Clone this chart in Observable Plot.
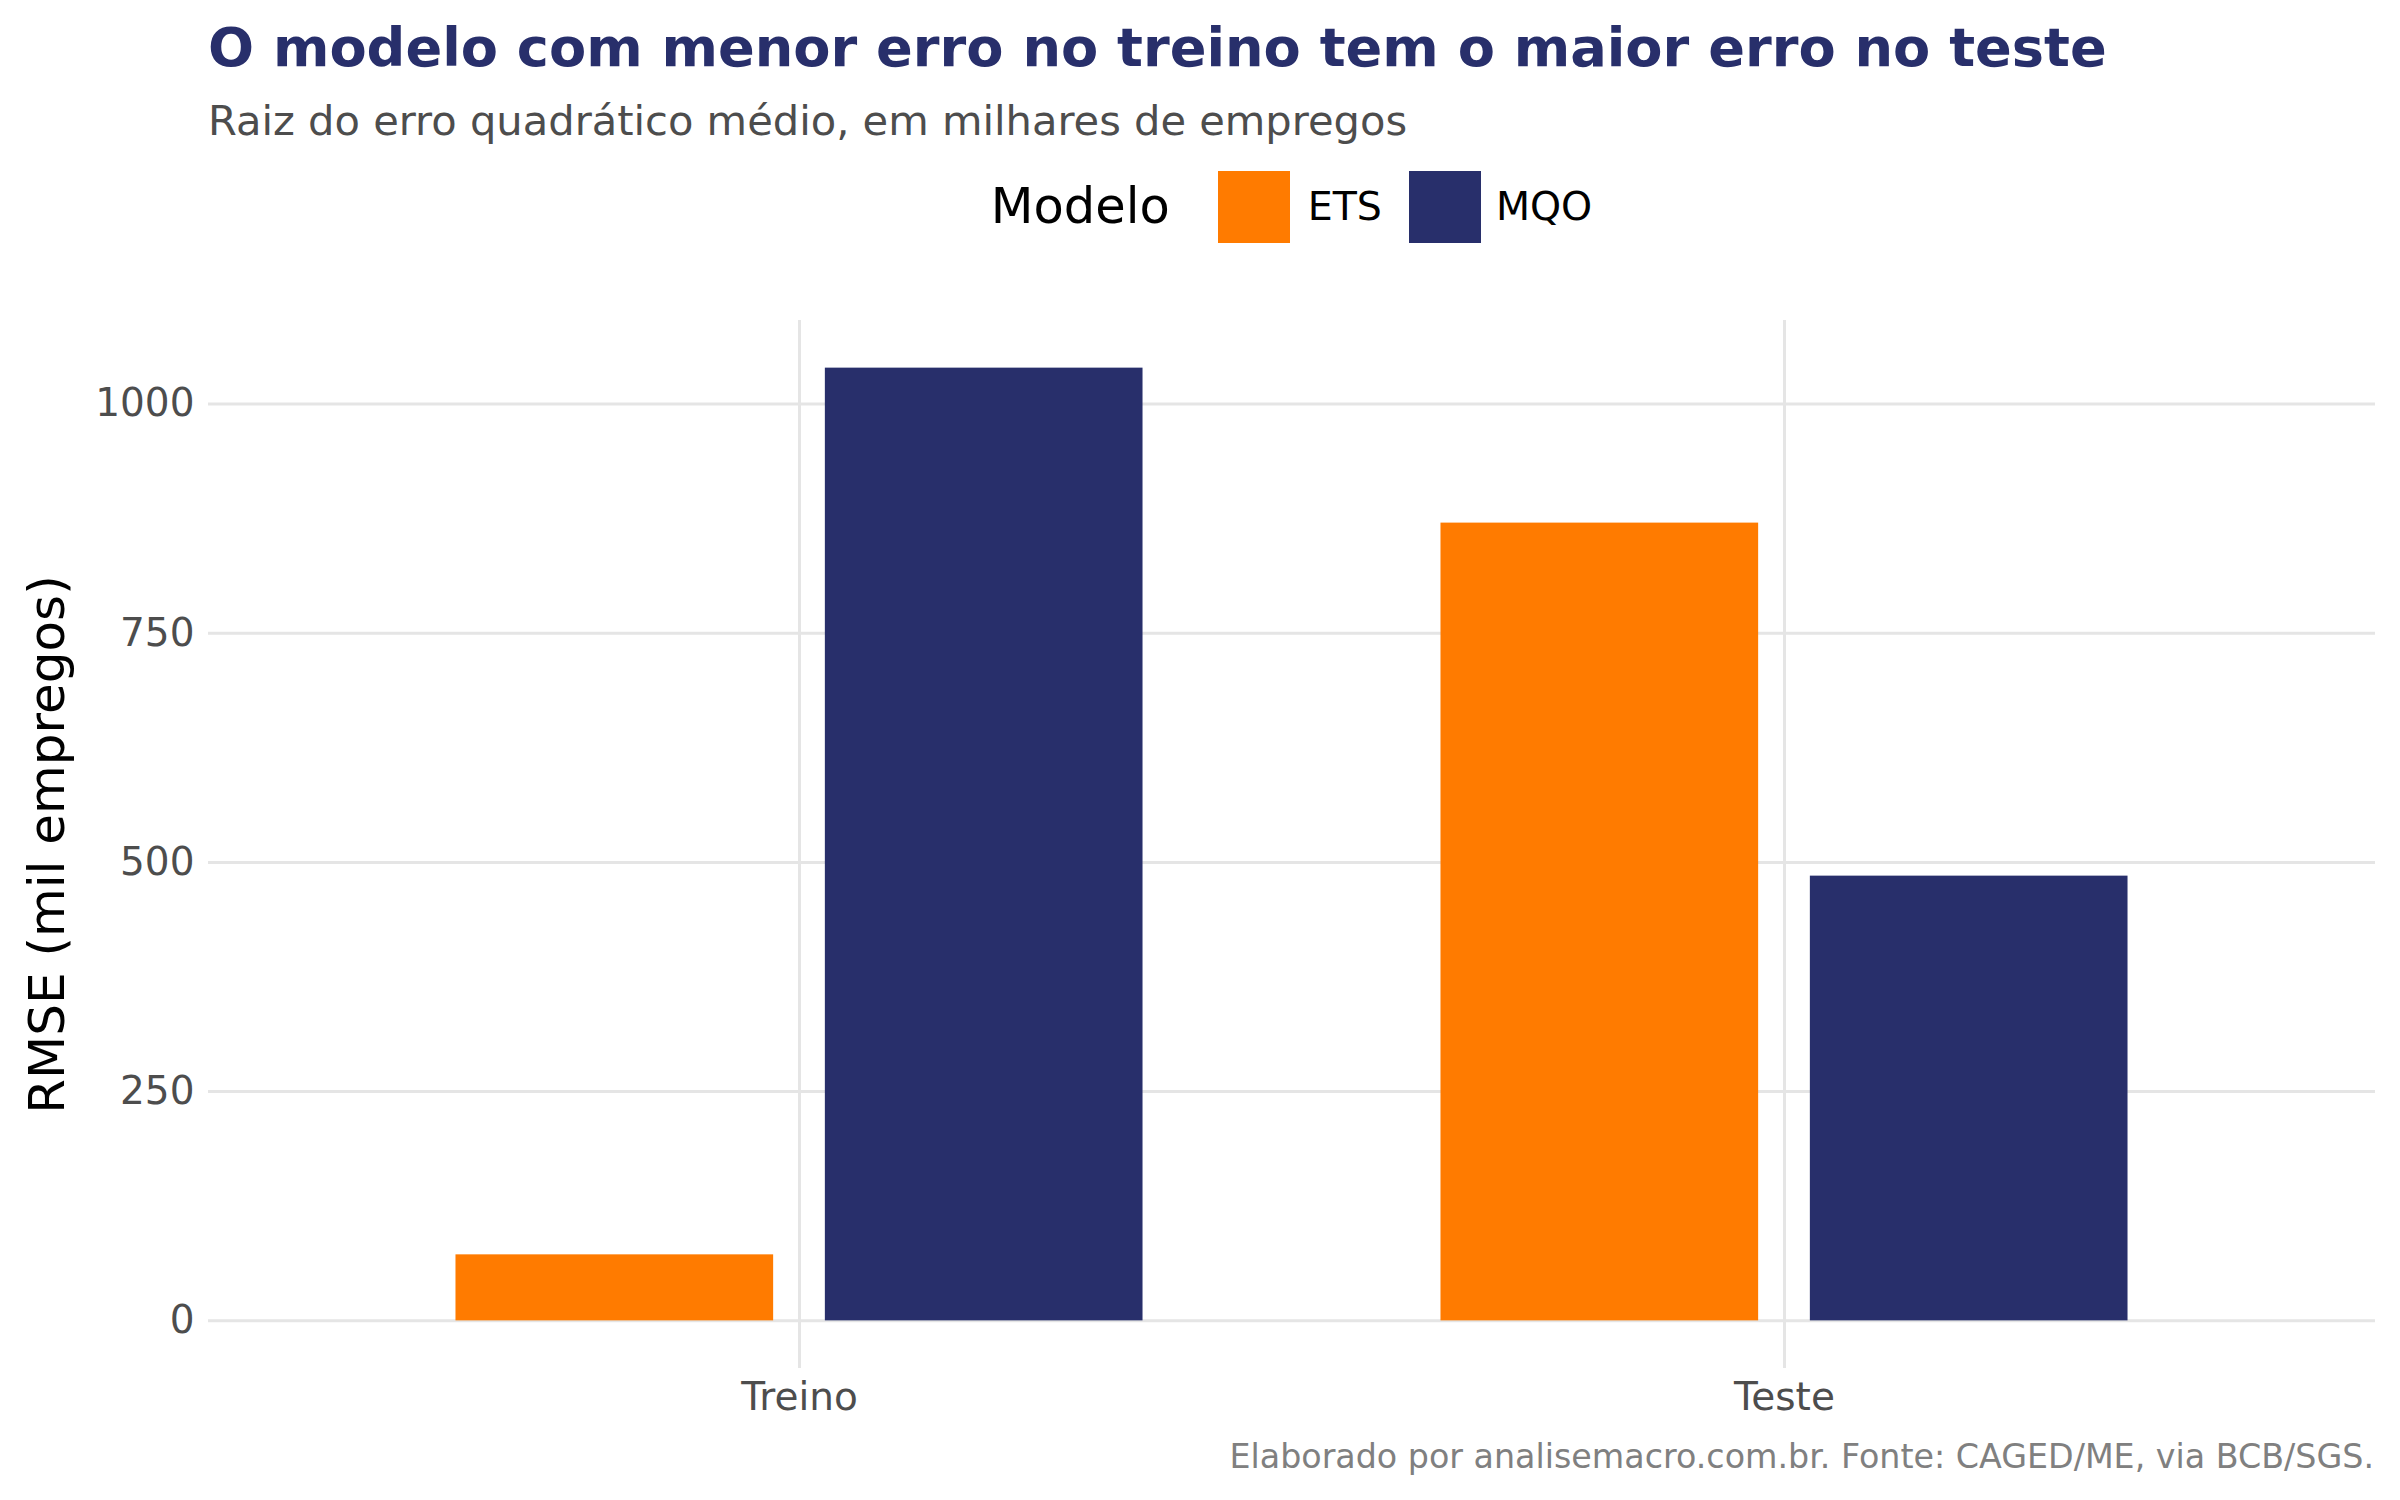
<!DOCTYPE html>
<html>
<head>
<meta charset="utf-8">
<script src="https://cdn.jsdelivr.net/npm/d3@7"></script>
<script src="https://cdn.jsdelivr.net/npm/@observablehq/plot@0.6"></script>
<style>
  html, body { margin: 0; padding: 0; background: #ffffff; }
  body { font-family: "DejaVu Sans", sans-serif; }
  #wrap { width: 2400px; height: 1500px; position: relative; overflow: hidden; background: #fff; }
  #header { position: relative; height: 300px; }
  .title { position: absolute; left: 208px; top: 21px; font-size: 54.2px; line-height: 54.2px; font-weight: bold; color: #282f6b; white-space: nowrap; }
  .subtitle { position: absolute; left: 208px; top: 100px; font-size: 41.6px; line-height: 41.6px; color: #4d4d4d; white-space: nowrap; }
  #legend { position: absolute; left: 208px; width: 2167px; top: 171px; height: 72px; display: flex; justify-content: center; align-items: center; }
  .lg-title { font-size: 49.5px; line-height: 49.5px; color: #000; margin-right: 48px; }
  .lg-key { width: 72px; height: 72px; }
  .lg-label { font-size: 39.5px; line-height: 39.5px; color: #000; }
  #chart svg { display: block; }
  .caption { height: 60px; padding-top: 0px; padding-right: 26px; text-align: right; font-size: 33.3px; line-height: 33.3px; color: #808080; white-space: nowrap; }
</style>
</head>
<body>
<div id="wrap">
  <div id="header">
    <div class="title">O modelo com menor erro no treino tem o maior erro no teste</div>
    <div class="subtitle">Raiz do erro quadrático médio, em milhares de empregos</div>
    <div id="legend"></div>
  </div>
  <div id="chart"></div>
  <div class="caption">Elaborado por analisemacro.com.br. Fonte: CAGED/ME, via BCB/SGS.</div>
</div>
<script>
// ---- data ----
const categorias = ["Treino", "Teste"];
const modelos = ["ETS", "MQO"];
const rmseETS = [72, 870];
const rmseMQO = [1039, 485];
const cores = ["#ff7b00", "#282f6b"];
const yTicks = [0, 250, 500, 750, 1000];
const legendTitle = "Modelo";
const yLabel = "RMSE (mil empregos)";

const series = [rmseETS, rmseMQO];
const data = categorias.flatMap((c, i) =>
  modelos.map((m, j) => ({categoria: c, modelo: m, rmse: series[j][i]}))
);

// ---- layout ----
const W = 2400, H = 1140;
const ml = 208, mr = 25, mt = 20, mb = 72;
const padOuter = 0.1;
const bw = (W - ml - mr) / (categorias.length + 2 * padOuter);
const dodgeWidth = 0.75, dodgePad = 0.14;
const slot = bw * dodgeWidth / modelos.length;
const barW = slot * (1 - dodgePad);

const yMax = d3.max(data, d => d.rmse);
const yExp = 0.05 * yMax;

const gridStyle = {stroke: "#e5e5e5", strokeOpacity: 1, strokeWidth: 3};

const barMarks = modelos.map((m, j) => {
  const center = bw / 2 + (j - (modelos.length - 1) / 2) * slot;
  const left = center - barW / 2;
  return Plot.barY(data.filter(d => d.modelo === m), {
    x: "categoria", y: "rmse", fill: "modelo",
    insetLeft: left, insetRight: bw - left - barW
  });
});

const chart = Plot.plot({
  width: W, height: H,
  marginLeft: ml, marginRight: mr, marginTop: mt, marginBottom: mb,
  style: {fontFamily: "DejaVu Sans", background: "white", overflow: "visible"},
  x: {domain: categorias, paddingInner: 0, paddingOuter: padOuter, round: false, axis: null},
  y: {domain: [-yExp, yMax + yExp], axis: null},
  color: {domain: modelos, range: cores},
  marks: [
    Plot.gridY(yTicks, gridStyle),
    Plot.gridX(categorias, gridStyle),
    ...barMarks,
    Plot.axisY({ticks: yTicks, tickFormat: d => String(d), tickSize: 0, tickPadding: 14, fontSize: 39, fill: "#4d4d4d", label: null}),
    Plot.axisY({ticks: [], tickSize: 0, label: yLabel, labelAnchor: "center", labelOffset: 180, labelArrow: "none", fontSize: 50, fill: "#000"}),
    Plot.axisX({tickSize: 0, tickPadding: 14, fontSize: 39, fill: "#4d4d4d", label: null})
  ]
});
document.getElementById("chart").appendChild(chart);

// ---- legend ----
const lg = document.getElementById("legend");
const t = document.createElement("span");
t.className = "lg-title"; t.textContent = legendTitle;
lg.appendChild(t);
modelos.forEach((m, j) => {
  const k = document.createElement("span");
  k.className = "lg-key"; k.style.background = cores[j];
  const l = document.createElement("span");
  l.className = "lg-label"; l.textContent = m;
  l.style.marginLeft = (j === 0 ? 18 : 15) + "px";
  if (j < modelos.length - 1) l.style.marginRight = "27px";
  lg.appendChild(k); lg.appendChild(l);
});
</script>
</body>
</html>
